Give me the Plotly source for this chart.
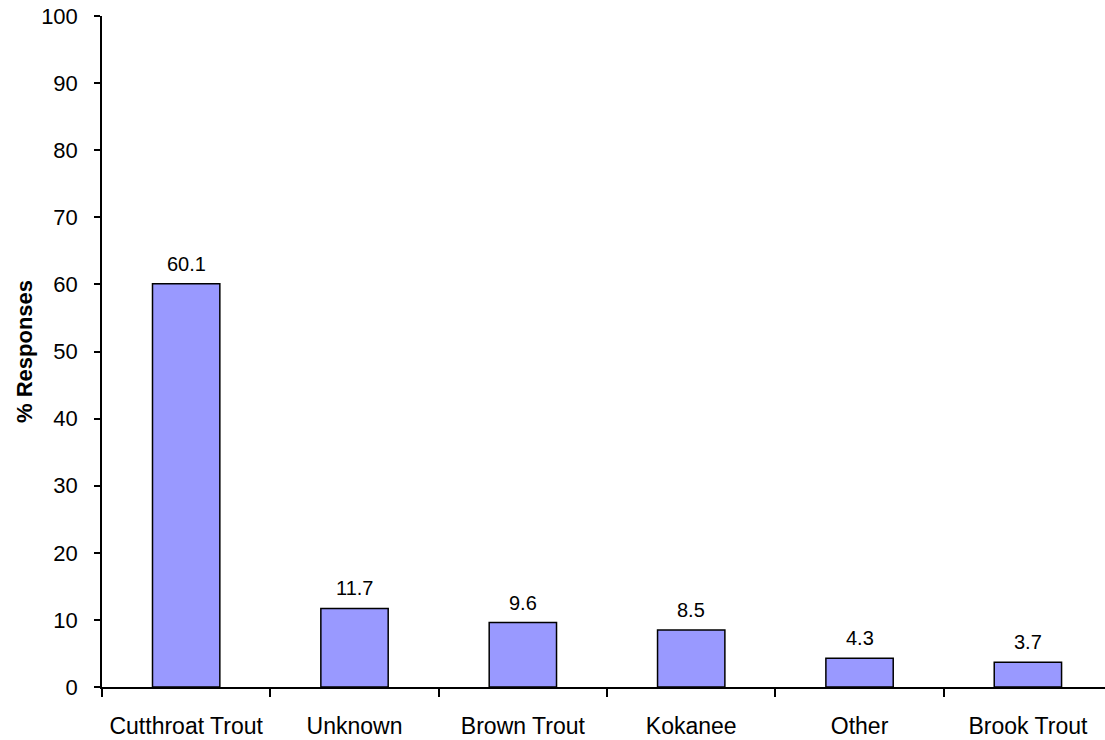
import plotly.graph_objects as go

categories = ["Cutthroat Trout", "Unknown", "Brown Trout", "Kokanee", "Other", "Brook Trout"]
responses = [60.1, 11.7, 9.6, 8.5, 4.3, 3.7]
y_ticks = list(range(0, 101, 10))

FONT = "Liberation Sans, Arial"

fig = go.Figure(go.Bar(
    x=categories,
    y=responses,
    width=0.4,
    marker=dict(color="#9999FF", line=dict(color="black", width=1.5)),
    cliponaxis=False,
))

for c, v in zip(categories, responses):
    fig.add_annotation(
        x=c, y=v, text=f"{v:.1f}", showarrow=False,
        xanchor="center", yanchor="bottom", yshift=7,
        font=dict(family=FONT, size=20, color="black"),
    )

fig.update_layout(
    width=1105, height=740,
    margin=dict(l=102, r=0, t=16, b=53, autoexpand=False),
    plot_bgcolor="white", paper_bgcolor="white",
    font=dict(family=FONT, color="black", size=20),
    showlegend=False,
)
fig.update_xaxes(
    type="category",
    range=[-0.5, 5.458],
    automargin=False,
    showline=True, linecolor="black", linewidth=1.5,
    ticks="outside", tickson="boundaries", ticklen=8, tickwidth=1.5, tickcolor="black",
    ticklabelstandoff=18,
    tickfont=dict(size=23),
    showgrid=False, zeroline=False,
)
fig.update_yaxes(
    range=[0, 100],
    tickvals=y_ticks,
    automargin=False,
    showline=True, linecolor="black", linewidth=1.5,
    ticks="outside", ticklen=6, tickwidth=1.5, tickcolor="black",
    ticklabelstandoff=12,
    ticklabeloverflow="allow",
    tickfont=dict(size=22),
    showgrid=False, zeroline=False,
    title=dict(text="<b>% Responses</b>", font=dict(size=22), standoff=2),
)

fig.write_html(
    "out.html",
    config={"displayModeBar": False},
    post_script="document.body.style.margin='0';",
)
